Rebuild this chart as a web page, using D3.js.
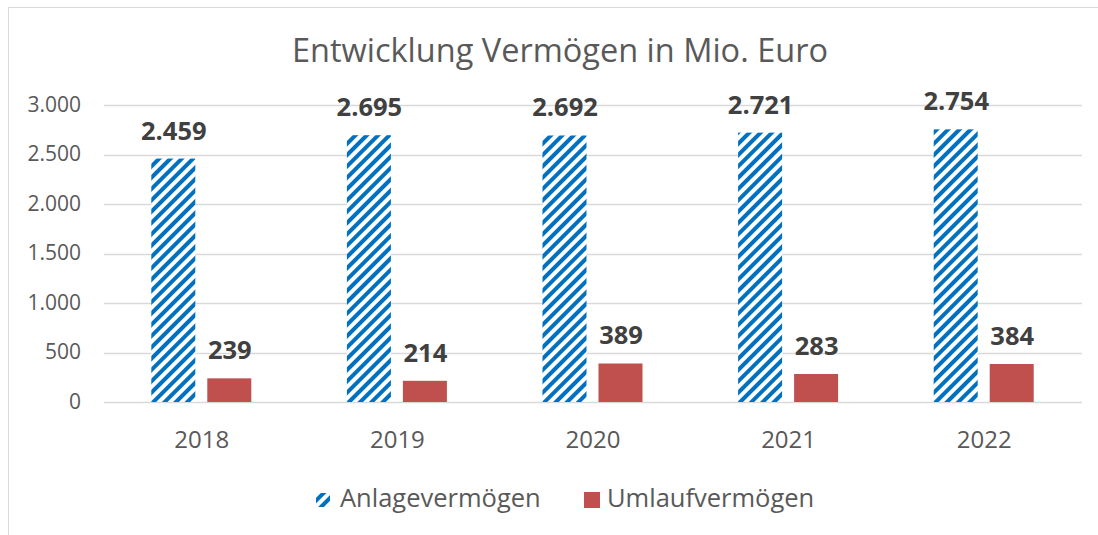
<!DOCTYPE html>
<html>
<head>
<meta charset="utf-8">
<script src="https://cdn.jsdelivr.net/npm/d3@7"></script>
<style>
  body { margin: 0; background: #fff; }
  svg { display: block; font-family: "Open Sans", sans-serif; }
</style>
</head>
<body>
<div id="container"></div>
<script>
// Data
const years = ["2018", "2019", "2020", "2021", "2022"];
const anlage = [2459, 2695, 2692, 2721, 2754];
const umlauf = [239, 214, 389, 283, 384];
const yTicks = [0, 500, 1000, 1500, 2000, 2500, 3000];
const seriesNames = ["Anlagevermögen", "Umlaufvermögen"];

const W = 1098, H = 535;
const plot = { left: 104, right: 1082, top: 105, bottom: 402 };

const svg = d3.select("#container")
    .append("svg")
    .attr("width", W)
    .attr("height", H);

// hatch pattern (wide upward diagonal)
const defs = svg.append("defs");
const pat = defs.append("pattern")
    .attr("id", "hatch")
    .attr("patternUnits", "userSpaceOnUse")
    .attr("width", 8)
    .attr("height", 8)
    .attr("patternTransform", "rotate(45)");
pat.append("rect").attr("width", 8).attr("height", 8).attr("fill", "#fff");
pat.append("rect").attr("x", 0).attr("width", 4).attr("height", 8).attr("fill", "#0070C0");

// chart border
svg.append("rect")
    .attr("x", 8.5).attr("y", 7.5)
    .attr("width", 1100).attr("height", 540)
    .attr("fill", "none")
    .attr("stroke", "#d9d9d9");

// Title
svg.append("text")
    .attr("x", 560).attr("y", 62)
    .attr("text-anchor", "middle")
    .attr("font-size", 32.5)
    .attr("fill", "#595959")
    .text("Entwicklung Vermögen in Mio. Euro");

// Scales
const x0 = d3.scaleBand().domain(years).range([plot.left, plot.right]);
const y = d3.scaleLinear().domain([0, 3000]).range([plot.bottom, plot.top]);

// Gridlines
svg.append("g")
    .selectAll("line")
    .data(yTicks)
    .join("line")
    .attr("x1", plot.left).attr("x2", plot.right)
    .attr("y1", d => Math.round(y(d)) + 0.5)
    .attr("y2", d => Math.round(y(d)) + 0.5)
    .attr("stroke", "#d9d9d9")
    .attr("stroke-width", 1.3);

// Y axis labels
const fmt = d3.formatLocale({ decimal: ",", thousands: ".", grouping: [3], currency: ["", "€"] }).format(",d");
svg.append("g")
    .selectAll("text")
    .data(yTicks)
    .join("text")
    .attr("x", 81)
    .attr("y", d => y(d))
    .attr("dy", "0.33em")
    .attr("text-anchor", "end")
    .attr("font-size", 21)
    .attr("fill", "#595959")
    .text(d => fmt(d));

// X axis labels
svg.append("g")
    .selectAll("text")
    .data(years)
    .join("text")
    .attr("x", d => x0(d) + x0.bandwidth() / 2)
    .attr("y", 448)
    .attr("text-anchor", "middle")
    .attr("font-size", 24)
    .attr("fill", "#595959")
    .text(d => d);

// Bars
const barW = 44, gap = 12;
const rows = years.map((yr, i) => ({ yr, a: anlage[i], u: umlauf[i] }));
const groups = svg.append("g")
    .selectAll("g")
    .data(rows)
    .join("g")
    .attr("transform", d => `translate(${x0(d.yr) + x0.bandwidth() / 2},0)`);

groups.append("rect")
    .attr("x", -barW - gap / 2 - 0.5)
    .attr("y", d => y(d.a))
    .attr("width", barW)
    .attr("height", d => y(0) - y(d.a))
    .attr("fill", "url(#hatch)");

groups.append("rect")
    .attr("x", gap / 2 - 0.5)
    .attr("y", d => y(d.u))
    .attr("width", barW)
    .attr("height", d => y(0) - y(d.u))
    .attr("fill", "#C0504D");

// Value labels
groups.append("text")
    .attr("x", -barW / 2 - gap / 2)
    .attr("y", d => y(d.a) - 19)
    .attr("text-anchor", "middle")
    .attr("font-size", 25.5)
    .attr("font-weight", "bold")
    .attr("fill", "#404040")
    .text(d => fmt(d.a));

groups.append("text")
    .attr("x", barW / 2 + gap / 2)
    .attr("y", d => y(d.u) - 19)
    .attr("text-anchor", "middle")
    .attr("font-size", 25.5)
    .attr("font-weight", "bold")
    .attr("fill", "#404040")
    .text(d => fmt(d.u));

// Legend
const legend = svg.append("g");
const legendItems = [
    { name: seriesNames[0], fill: "url(#hatch)", x: 316, size: 14, tx: 24 },
    { name: seriesNames[1], fill: "#C0504D", x: 584, size: 16, tx: 23 }
];
const li = legend.selectAll("g")
    .data(legendItems)
    .join("g")
    .attr("transform", d => `translate(${d.x},0)`);
li.append("rect")
    .attr("x", 0).attr("y", d => 500 - d.size / 2)
    .attr("width", d => d.size).attr("height", d => d.size)
    .attr("fill", d => d.fill);
li.append("text")
    .attr("x", d => d.tx).attr("y", 507)
    .attr("font-size", 25.5)
    .attr("fill", "#595959")
    .text(d => d.name);
</script>
</body>
</html>
